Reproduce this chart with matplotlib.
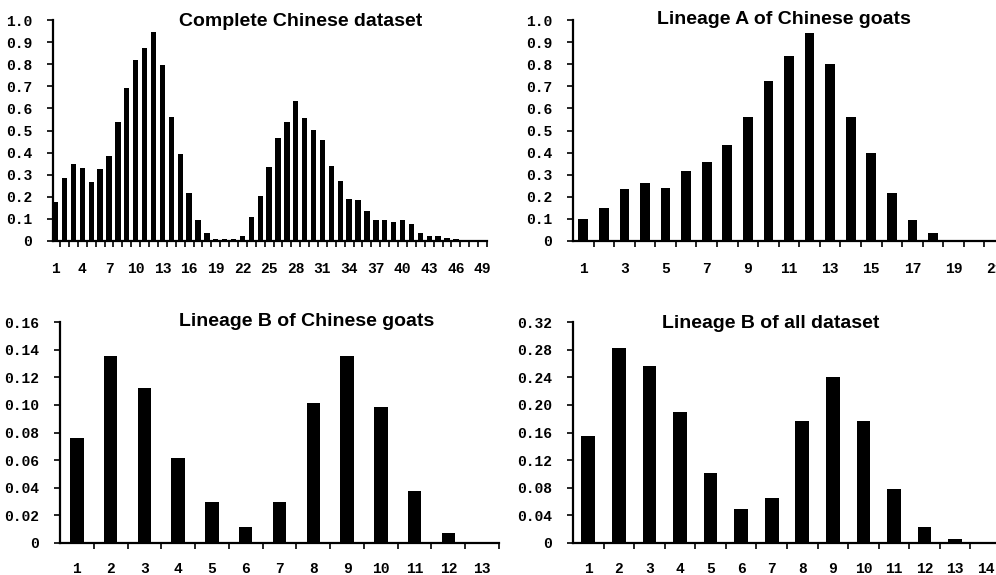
import matplotlib
matplotlib.use("Agg")
import matplotlib.pyplot as plt
import numpy as np

# frequencies
complete_chinese = [0.175, 0.287, 0.348, 0.329, 0.268, 0.324, 0.386, 0.537, 0.694, 0.817,
                    0.872, 0.944, 0.798, 0.560, 0.395, 0.217, 0.094, 0.036, 0.011, 0.008,
                    0.011, 0.021, 0.107, 0.202, 0.335, 0.466, 0.537, 0.635, 0.557, 0.504,
                    0.457, 0.339, 0.273, 0.192, 0.187, 0.136, 0.097, 0.097, 0.084, 0.094,
                    0.078, 0.036, 0.021, 0.021, 0.015, 0.009, 0.005, 0.002, 0.0]
lineage_a_chinese = [0.098, 0.148, 0.234, 0.264, 0.238, 0.317, 0.359, 0.433, 0.561, 0.724,
                     0.836, 0.941, 0.799, 0.561, 0.397, 0.217, 0.094, 0.038, 0.005, 0.0, 0.0]
lineage_b_chinese = [0.0758, 0.1356, 0.1122, 0.0613, 0.0294, 0.0116, 0.0294, 0.1014,
                     0.1356, 0.0987, 0.0379, 0.0070, 0.0]
lineage_b_all = [0.155, 0.283, 0.257, 0.189, 0.101, 0.0487, 0.0652, 0.177, 0.241,
                 0.177, 0.0787, 0.0227, 0.0053, 0.0]

titles = ["Complete Chinese dataset", "Lineage A of Chinese goats",
          "Lineage B of Chinese goats", "Lineage B of all dataset"]

yticks_top = [0, 0.1, 0.2, 0.3, 0.4, 0.5, 0.6, 0.7, 0.8, 0.9, 1.0]
yticklabels_top = ["0", "0.1", "0.2", "0.3", "0.4", "0.5", "0.6", "0.7", "0.8", "0.9", "1.0"]
yticks_b_chinese = [0, 0.02, 0.04, 0.06, 0.08, 0.10, 0.12, 0.14, 0.16]
yticklabels_b_chinese = ["0", "0.02", "0.04", "0.06", "0.08", "0.10", "0.12", "0.14", "0.16"]
yticks_b_all = [0, 0.04, 0.08, 0.12, 0.16, 0.20, 0.24, 0.28, 0.32]
yticklabels_b_all = ["0", "0.04", "0.08", "0.12", "0.16", "0.20", "0.24", "0.28", "0.32"]

W, H = 996, 575
TICK_FONT = ["Liberation Mono", "DejaVu Sans Mono"]


def draw_panel(fig, rect, values, title, title_xy, yticks, ylabels, label_step,
               bar_width, ymax, x_left, xpad):
    ax = fig.add_axes(rect)
    x = np.arange(1, len(values) + 1)
    ax.bar(x, values, width=bar_width, color="black", edgecolor="none")
    ax.set_xlim(x_left, len(values) + 0.5)
    ax.set_ylim(0, ymax)

    for side in ("top", "right"):
        ax.spines[side].set_visible(False)
    for side in ("left", "bottom"):
        ax.spines[side].set_linewidth(1.6)

    ax.set_yticks(yticks)
    ax.set_yticklabels(ylabels, fontfamily=TICK_FONT, fontsize=10.5,
                       fontweight="bold")
    ax.tick_params(axis="y", length=4, width=1.2, pad=11)

    ax.set_xticks(x[::label_step])
    ax.set_xticklabels([str(v) for v in x[::label_step]], fontfamily=TICK_FONT,
                       fontsize=10.5, fontweight="bold")
    ax.set_xticks(np.arange(1.5, len(values) + 0.6, 1.0), minor=True)
    ax.tick_params(axis="x", which="major", length=0, pad=xpad)
    ax.tick_params(axis="x", which="minor", length=4, width=1.2)

    fig.text(title_xy[0] / W, 1 - title_xy[1] / H, title, ha="center", va="center",
             fontsize=14, fontweight="bold", family="Liberation Sans")
    return ax


fig = plt.figure(figsize=(W / 100, H / 100), dpi=100)

draw_panel(fig, [53 / W, 1 - 241 / H, 434 / W, 221 / H], complete_chinese,
           titles[0], (301, 21), yticks_top, yticklabels_top, 3, 0.6, 1.0, 0.7, 15)
draw_panel(fig, [573 / W, 1 - 241 / H, 432 / W, 221 / H], lineage_a_chinese,
           titles[1], (784, 20), yticks_top, yticklabels_top, 2, 0.47, 1.0, 0.5, 15)
draw_panel(fig, [60 / W, 1 - 543 / H, 439 / W, 221 / H], lineage_b_chinese,
           titles[2], (307, 322), yticks_b_chinese, yticklabels_b_chinese, 1, 0.4,
           0.16, 0.5, 14)
draw_panel(fig, [573 / W, 1 - 543 / H, 428 / W, 221 / H], lineage_b_all,
           titles[3], (771, 323), yticks_b_all, yticklabels_b_all, 1, 0.45,
           0.32, 0.5, 14)

fig.savefig("out.png", dpi=100)
